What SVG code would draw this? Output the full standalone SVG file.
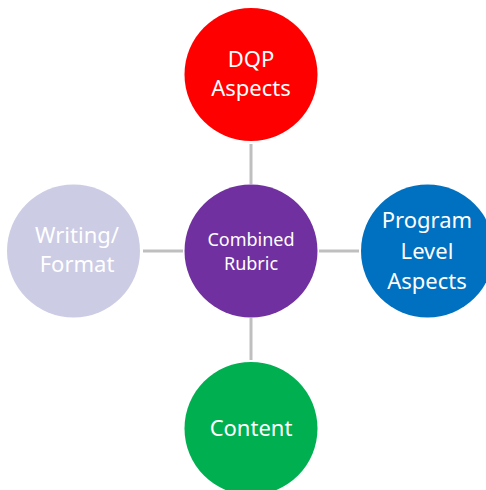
<svg xmlns="http://www.w3.org/2000/svg" width="486" height="490" viewBox="0 0 486 490">
<style>
.c{stroke:none}
.t{font-family:"Noto Sans","Open Sans",sans-serif;fill:#ffffff;text-anchor:middle;font-size:22px}
.s{font-size:18px}
.l{stroke:#BFBFBF;stroke-width:3;fill:none}
</style>
<rect width="486" height="490" fill="#ffffff"/>
<g id="connectors">
<line class="l" x1="251" y1="144" x2="251" y2="184"/>
<line class="l" x1="251" y1="318" x2="251" y2="360"/>
<line class="l" x1="143" y1="251" x2="183" y2="251"/>
<line class="l" x1="319" y1="251" x2="359" y2="251"/>
</g>
<g id="center">
<circle class="c" cx="251" cy="251" r="66.5" fill="#7030A0"/>
<text class="t s" x="251" y="246">Combined</text>
<text class="t s" x="251" y="270">Rubric</text>
</g>
<g id="dqp">
<circle class="c" cx="251" cy="74.5" r="66.5" fill="#FF0000"/>
<text class="t" x="251" y="67">DQP</text>
<text class="t" x="251" y="96">Aspects</text>
</g>
<g id="program">
<circle class="c" cx="427.5" cy="251" r="66.5" fill="#0070C0"/>
<text class="t" x="427" y="228">Program</text>
<text class="t" x="427" y="258.5">Level</text>
<text class="t" x="427" y="289">Aspects</text>
</g>
<g id="writing">
<circle class="c" cx="73.5" cy="251" r="66.5" fill="#CCCCE5"/>
<text class="t" x="77" y="243">Writing/</text>
<text class="t" x="77" y="272">Format</text>
</g>
<g id="content">
<circle class="c" cx="251" cy="428.5" r="66.5" fill="#00B050"/>
<text class="t" x="251" y="436">Content</text>
</g>
</svg>
